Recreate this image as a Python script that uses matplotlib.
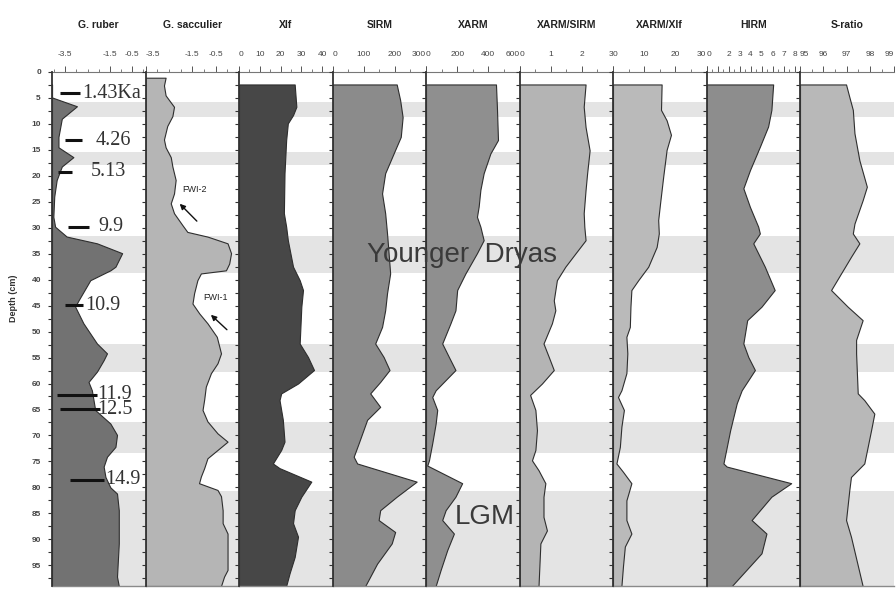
import matplotlib
matplotlib.use("Agg")
import matplotlib.pyplot as plt
from matplotlib.ticker import MultipleLocator

# ---------------- data ----------------
titles = ["G. ruber", "G. sacculier", "Xlf", "SIRM", "XARM", "XARM/SIRM", "XARM/Xlf", "HIRM", "S-ratio"]

ruber_depth = [2.4, 4.9, 6.6, 9.0, 12.5, 14.5, 16.4, 18.2, 20.8, 24.0, 27.9, 29.8, 31.7, 33.0, 34.9,
               37.5, 38.2, 40.1, 44.0, 45.2, 48.4, 52.3, 54.2, 55.5, 57.7, 59.7, 61.3, 65.1, 67.7, 69.9,
               72.2, 74.1, 76.0, 78.0, 80.0, 81.2, 84.4, 90.8, 97.2, 99.0]
ruber = [-4.1, -4.1, -2.98, -3.66, -3.81, -3.81, -3.14, -3.66, -3.89, -4.0, -4.04, -3.96, -3.44, -2.08, -0.95,
         -1.25, -1.48, -2.38, -2.91, -3.06, -2.69, -2.08, -1.63, -1.78, -2.08, -2.46, -2.31, -2.16, -1.48, -1.18,
         -1.25, -1.63, -1.78, -1.70, -1.48, -1.18, -1.10, -1.10, -1.18, -1.10]

sacc_depth = [1.1, 2.6, 4.5, 6.7, 8.5, 10.4, 13.0, 14.5, 16.4, 18.2, 20.8, 23.4, 25.3, 27.2, 29.5,
              30.8, 31.7, 33.0, 34.9, 36.9, 38.2, 38.8, 40.1, 42.6, 44.6, 46.5, 48.4, 51.0, 54.2, 56.1,
              58.0, 60.6, 63.1, 65.1, 67.3, 69.6, 71.2, 72.8, 74.4, 76.3, 77.9, 79.2, 80.5, 81.7, 84.4,
              86.9, 88.9, 92.1, 95.9, 97.2, 99.0]
sacc = [-2.64, -2.71, -2.64, -2.28, -2.35, -2.57, -2.71, -2.64, -2.42, -2.35, -2.21, -2.28, -2.42, -2.28, -1.92,
        -1.71, -0.85, 0.01, 0.16, 0.08, -0.06, -1.13, -1.28, -1.42, -1.49, -1.20, -0.85, -0.45, -0.27, -0.42,
        -0.70, -0.92, -0.99, -1.06, -0.85, -0.42, 0.01, -0.42, -0.85, -0.99, -1.13, -1.21, -0.42, -0.27, -0.20,
        -0.20, 0.01, 0.01, 0.01, -0.14, -0.27]

xlf_depth = [2.4, 6.7, 8.3, 9.9, 13.1, 19.5, 27.2, 29.8, 32.4, 37.5, 40.1, 42.0, 45.2, 52.3, 54.9,
             57.4, 60.0, 61.9, 63.2, 67.0, 71.2, 72.8, 75.4, 76.3, 78.9, 81.8, 84.4, 86.9, 89.5, 93.4,
             96.6, 99.0]
xlf = [26.8, 27.6, 26.0, 23.5, 22.7, 21.9, 21.6, 22.7, 23.5, 26.0, 29.2, 30.8, 30.0, 29.2, 33.2,
       36.1, 28.4, 20.3, 19.5, 21.1, 21.9, 20.3, 16.3, 19.5, 34.8, 30.0, 26.8, 26.0, 28.4, 26.8,
       24.3, 22.7]

sirm_depth = [2.4, 5.4, 8.7, 12.5, 15.7, 19.5, 23.4, 27.2, 31.1, 34.9, 38.8, 42.6, 45.9, 49.1, 52.3,
              54.9, 57.4, 59.7, 61.9, 64.5, 67.0, 71.5, 74.1, 75.4, 78.9, 81.8, 84.4, 86.3, 88.6, 90.8,
              94.7, 99.0]
sirm = [206, 217, 225, 219, 196, 169, 159, 169, 175, 180, 185, 175, 169, 159, 137,
        164, 183, 153, 121, 153, 111, 84, 68, 79, 270, 206, 153, 148, 201, 190,
        143, 105]

xarm_depth = [2.4, 6.7, 13.1, 15.7, 19.5, 22.7, 25.9, 27.9, 29.8, 32.4, 34.9, 38.8, 42.0, 45.9, 48.4,
              52.3, 54.9, 57.4, 61.3, 62.6, 65.1, 67.7, 71.5, 74.8, 75.8, 79.2, 81.8, 84.4, 86.3, 88.9,
              92.1, 95.9, 99.0]
xarm = [449, 455, 462, 413, 370, 349, 338, 327, 349, 370, 327, 253, 200, 189, 157,
        104, 147, 189, 62, 40, 72, 62, 40, 19, 8, 232, 189, 126, 104, 179,
        136, 94, 62]

xs_depth = [2.4, 6.7, 10.6, 15.1, 19.5, 22.7, 27.2, 29.8, 32.4, 34.9, 37.5, 40.1, 44.0, 45.9, 48.4,
            52.3, 54.9, 57.4, 60.0, 62.2, 65.1, 69.0, 72.8, 74.8, 76.7, 79.2, 81.8, 85.7, 88.3, 90.8, 99.0]
xarm_sirm = [2.12, 2.06, 2.12, 2.25, 2.17, 2.12, 2.06, 2.08, 2.12, 1.80, 1.47, 1.20, 1.10, 1.15, 1.04,
             0.77, 0.94, 1.10, 0.72, 0.34, 0.51, 0.56, 0.51, 0.40, 0.61, 0.83, 0.77, 0.77, 0.88, 0.67, 0.61]

xx_depth = [2.4, 7.3, 9.3, 12.1, 15.0, 20.2, 25.3, 28.5, 31.1, 33.7, 37.5, 40.1, 42.0, 45.2, 49.1,
            51.0, 54.2, 58.0, 61.3, 62.6, 65.1, 68.3, 72.2, 75.4, 77.0, 79.2, 82.5, 86.3, 88.9, 91.4,
            95.2, 99.0]
xarm_xlf = [15.6, 15.4, 17.2, 18.6, 17.2, 16.1, 15.1, 14.5, 14.7, 14.0, 11.3, 8.1, 5.9, 5.6, 5.4,
            4.3, 4.6, 4.3, 2.7, 1.6, 3.5, 2.7, 2.2, 1.1, 3.2, 5.9, 4.3, 4.3, 5.9, 3.8,
            3.2, 2.7]

hirm_depth = [2.4, 7.3, 10.5, 14.4, 18.9, 22.4, 26.0, 29.8, 31.1, 33.0, 37.5, 42.0, 45.2, 47.8, 52.3,
              54.9, 57.4, 61.3, 63.8, 69.0, 75.4, 76.0, 79.2, 81.8, 86.3, 88.9, 92.7, 99.0]
hirm = [6.06, 5.90, 5.60, 4.85, 3.95, 3.35, 3.95, 4.70, 4.85, 4.25, 5.30, 6.20, 5.00, 3.70, 3.35,
        3.80, 4.40, 3.20, 2.75, 2.15, 1.54, 1.84, 7.70, 5.90, 4.10, 5.45, 5.00, 2.30]

sr_depth = [2.4, 4.8, 7.3, 11.8, 17.0, 22.1, 24.7, 29.2, 31.1, 33.0, 35.6, 42.0, 45.2, 47.8, 51.6,
            54.2, 61.9, 63.2, 65.8, 69.0, 75.4, 78.0, 80.5, 86.3, 89.5, 99.0]
s_ratio = [96.97, 97.11, 97.26, 97.33, 97.54, 97.86, 97.68, 97.33, 97.26, 97.54, 97.18, 96.33, 97.04, 97.68, 97.40,
           97.40, 97.47, 97.75, 98.18, 98.04, 97.75, 97.18, 97.11, 96.97, 97.18, 97.68]

xlims = [(-4.1, 0.1), (-3.5, 0.5), (0, 45), (0, 300), (0, 600), (0, 3), (0, 30), (0, 8.5), (95, 99)]
major_ticks = [[-3.5, -1.5, -0.5], [-3.5, -1.5, -0.5], [0, 10, 20, 30, 40], [0, 100, 200, 300],
               [0, 200, 400, 600], [0, 1, 2, 3], [0, 10, 20, 30], [0, 1, 2, 3, 4, 5, 6, 7, 8],
               [95, 96, 97, 98, 99]]
tick_labels = [["-3.5", "-1.5", "-0.5"], ["-3.5", "-1.5", "-0.5"], ["0", "10", "20", "30", "40"],
               ["0", "100", "200", "300"], ["0", "200", "400", "600"], ["0", "1", "2", "3"],
               ["0", "10", "20", "30"], ["0", "", "2", "3", "4", "5", "6", "7", "8"],
               ["95", "96", "97", "98", "99"]]
minor_steps = [0.5, 0.5, 5, 50, 100, 0.5, 5, 0.5, 0.5]

bands = [(5.7, 8.6), (15.4, 18.0), (31.6, 38.8), (52.4, 57.7), (67.4, 73.4), (80.7, 99.0)]

age_labels = ["1.43Ka", "4.26", "5.13", "9.9", "10.9", "11.9", "12.5", "14.9"]
age_depths = [4.1, 13.1, 19.2, 29.8, 44.9, 62.2, 65.0, 78.5]

series = [(ruber_depth, ruber), (sacc_depth, sacc), (xlf_depth, xlf), (sirm_depth, sirm),
          (xarm_depth, xarm), (xs_depth, xarm_sirm), (xx_depth, xarm_xlf), (hirm_depth, hirm),
          (sr_depth, s_ratio)]
fill_colors = ["#727272", "#b5b5b5", "#474747", "#8b8b8b", "#8f8f8f", "#b4b4b4", "#bababa", "#8d8d8d", "#b8b8b8"]

# ---------------- layout ----------------
W, H = 896, 592
fig = plt.figure(figsize=(W / 100, H / 100), dpi=100)
left0, pw = 52, 93.5
top_px, bot_px = 72, 586
axes = []
for i in range(9):
    ax = fig.add_axes([(left0 + i * pw) / W, (H - bot_px) / H, pw / W, (bot_px - top_px) / H])
    axes.append(ax)

for i, ax in enumerate(axes):
    d, v = series[i]
    ax.set_xlim(*xlims[i])
    ax.set_ylim(99, 0)
    for a, b in bands:
        ax.axhspan(a, b, color="#e4e4e4", lw=0, zorder=0)
    ax.fill_betweenx(d, xlims[i][0], v, facecolor=fill_colors[i], edgecolor="#2e2e2e",
                     linewidth=0.8, zorder=2)
    # spines
    ax.spines["right"].set_visible(False)
    ax.spines["left"].set_color("#333333")
    ax.spines["left"].set_linewidth(1.3)
    ax.spines["left"].set_zorder(3)
    ax.spines["top"].set_color("#777777")
    ax.spines["top"].set_linewidth(0.8)
    ax.spines["bottom"].set_color("#8a8a8a")
    ax.spines["bottom"].set_linewidth(1.0)
    # x axis on top
    ax.xaxis.tick_top()
    ax.set_xticks(major_ticks[i])
    ax.set_xticklabels(tick_labels[i])
    ax.xaxis.set_minor_locator(MultipleLocator(minor_steps[i]))
    ax.tick_params(axis="x", which="major", direction="out", length=4, width=0.7,
                   colors="#555555", labelsize=6, pad=6, labelcolor="#444444")
    ax.tick_params(axis="x", which="minor", direction="out", length=2, width=0.6, colors="#666666")
    lo, hi = xlims[i]
    for lab, t in zip(ax.get_xticklabels(), major_ticks[i]):
        lab.set_fontfamily("Liberation Sans")
        if abs(t - lo) < 1e-9:
            lab.set_horizontalalignment("left")
        elif abs(t - hi) < 1e-9:
            lab.set_horizontalalignment("right")
    # y axis
    ax.yaxis.set_major_locator(MultipleLocator(5))
    ax.yaxis.set_minor_locator(MultipleLocator(2.5))
    ax.tick_params(axis="y", which="both", direction="out", length=3, width=0.8, colors="#333333",
                   labelsize=6, pad=5, labelleft=(i == 0), labelcolor="#444444")
    if i == 0:
        ax.set_yticks(list(range(0, 100, 5)))
        for lab in ax.get_yticklabels():
            lab.set_fontfamily("Liberation Sans")
            lab.set_fontweight("bold")
    ax.text(0.5, 1 + 47 / (bot_px - top_px), titles[i], transform=ax.transAxes, ha="center",
            va="center", fontsize=7.5, fontweight="bold", family="Liberation Sans", color="#222222")

# ---------------- annotations ----------------
ax0 = axes[0]
marker_x0 = [-3.74, -3.51, -3.82, -3.36, -3.51, -3.89, -3.74, -3.29]
marker_x1 = [-2.84, -2.76, -3.21, -2.46, -2.69, -2.08, -1.93, -1.78]
label_x = [-2.76, -2.16, -2.38, -2.02, -2.61, -2.07, -2.07, -1.71]
for lab, dep, x0, x1, tx in zip(age_labels, age_depths, marker_x0, marker_x1, label_x):
    ax0.plot([x0, x1], [dep, dep], color="#111111", lw=2.2, zorder=4, solid_capstyle="butt")
    ax0.text(tx, dep, lab, ha="left", va="center", fontsize=14.5, family="Liberation Serif",
             color="#333333", zorder=5, clip_on=False)

ax1 = axes[1]
ax1.text(-1.39, 22.7, "FWI-2", ha="center", va="center", fontsize=6.5, family="Liberation Sans",
         color="#222222", zorder=5)
ax1.annotate("", xy=(-2.12, 25.0), xytext=(-1.22, 29.1),
             arrowprops=dict(arrowstyle="-|>", color="#111111", lw=1.0, mutation_scale=8), zorder=5)
ax1.text(-0.49, 43.5, "FWI-1", ha="center", va="center", fontsize=6.5, family="Liberation Sans",
         color="#222222", zorder=5)
ax1.annotate("", xy=(-0.79, 46.4), xytext=(0.07, 50.0),
             arrowprops=dict(arrowstyle="-|>", color="#111111", lw=1.0, mutation_scale=8), zorder=5)

fig.text(367 / W, 1 - 255 / H, "Younger  Dryas", ha="left", va="center", fontsize=20,
         family="Liberation Sans", color="#3a3a3a", zorder=10)
fig.text(455 / W, 1 - 517 / H, "LGM", ha="left", va="center", fontsize=20,
         family="Liberation Sans", color="#3a3a3a", zorder=10)
fig.text(13 / W, 1 - 298 / H, "Depth (cm)", rotation=90, ha="center", va="center", fontsize=6.5,
         fontweight="bold", family="Liberation Sans", color="#333333")

fig.savefig("out.png", dpi=100)
